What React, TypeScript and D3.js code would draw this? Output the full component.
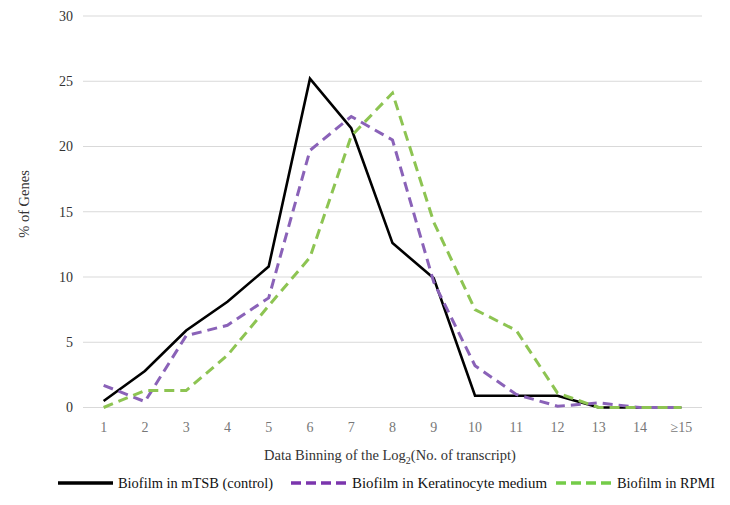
import React from 'react';
import * as d3 from 'd3';

// bins along the x axis
const bins = ['1', '2', '3', '4', '5', '6', '7', '8', '9', '10', '11', '12', '13', '14', '≥15'];
// % of genes per bin
const mtsb = [0.5, 2.8, 5.9, 8.1, 10.8, 25.2, 21.4, 12.6, 9.9, 0.9, 0.9, 0.9, 0.0, 0.0, 0.0];
const keratinocyte = [1.7, 0.45, 5.5, 6.3, 8.4, 19.7, 22.3, 20.5, 9.6, 3.2, 1.0, 0.1, 0.35, 0.0, 0.0];
const rpmi = [0.0, 1.3, 1.3, 4.0, 7.8, 11.5, 20.8, 24.1, 14.2, 7.5, 5.9, 1.1, 0.0, 0.0, 0.0];
const yTicks = [0, 5, 10, 15, 20, 25, 30];

const series = [
  { label: 'Biofilm in mTSB (control)', values: mtsb, color: '#000000', legendColor: '#000000', dash: null, width: 2.6 },
  { label: 'Biofilm in Keratinocyte medium', values: keratinocyte, color: '#8a62b8', legendColor: '#7b35ad', dash: '10,6', width: 3 },
  { label: 'Biofilm in RPMI', values: rpmi, color: '#8dc452', legendColor: '#74cc48', dash: '10,6', width: 3 },
];

const FONT = '"Liberation Serif", "DejaVu Serif", serif';
const txt = { fontFamily: FONT };

export default function App() {
  const width = 730;
  const height = 505;
  const left = 83;
  const right = 702;
  const top = 16;
  const bottom = 407.5;

  const x = d3.scalePoint<string>().domain(bins).range([left, right]).padding(0.5);
  const y = d3.scaleLinear().domain([0, 30]).range([bottom, top]);

  const line = d3.line<number>()
    .x((d, i) => x(bins[i]) as number)
    .y(d => y(d));

  // legend layout (sample start, sample end, text start, text width)
  const legendY = 483;
  const legendPos = [
    { x1: 58, x2: 113, tx: 118, w: 155 },
    { x1: 291, x2: 347, tx: 352, w: 195 },
    { x1: 556, x2: 611, tx: 617, w: 98 },
  ];

  return (
    <svg width={width} height={height} style={{ position: 'absolute', left: 0, top: 0, background: '#fff' }}>
      {/* grid */}
      {yTicks.map(t => (
        <g key={t}>
          <line x1={left} x2={right} y1={y(t)} y2={y(t)} stroke="#d9d9d9" strokeWidth={1} />
          <text x={73} y={y(t)} dy="0.35em" textAnchor="end" fontSize={14} fill="#333" style={txt}>{t}</text>
        </g>
      ))}

      {/* x tick labels */}
      {bins.map(b => (
        <text key={b} x={x(b)} y={427} dy="0.35em" textAnchor="middle" fontSize={14} fill="#777" style={txt}>{b}</text>
      ))}

      {/* series */}
      {series.map(s => (
        <path key={s.label} d={line(s.values) || ''} fill="none" stroke={s.color}
          strokeWidth={s.width} strokeDasharray={s.dash || undefined} strokeLinejoin="miter" />
      ))}

      {/* axis titles */}
      <text x={390} y={455} dy="0.35em" textAnchor="middle" fontSize={14.5} fill="#333" style={txt}>
        Data Binning of the Log<tspan fontSize={10} dy="4">2</tspan><tspan dy="-4">(No. of transcript)</tspan>
      </text>
      <text transform={`translate(24,204) rotate(-90)`} dy="0.35em" textAnchor="middle" fontSize={14.5} fill="#333" style={txt}>% of Genes</text>

      {/* legend */}
      {series.map((s, i) => (
        <g key={s.label}>
          <line x1={legendPos[i].x1} x2={legendPos[i].x2} y1={legendY} y2={legendY} stroke={s.legendColor}
            strokeWidth={3.5} strokeDasharray={s.dash ? '10,5' : undefined} />
          <text x={legendPos[i].tx} y={legendY} dy="0.35em" fontSize={15} fill="#111" style={txt}
            textLength={legendPos[i].w} lengthAdjust="spacingAndGlyphs">{s.label}</text>
        </g>
      ))}
    </svg>
  );
}
